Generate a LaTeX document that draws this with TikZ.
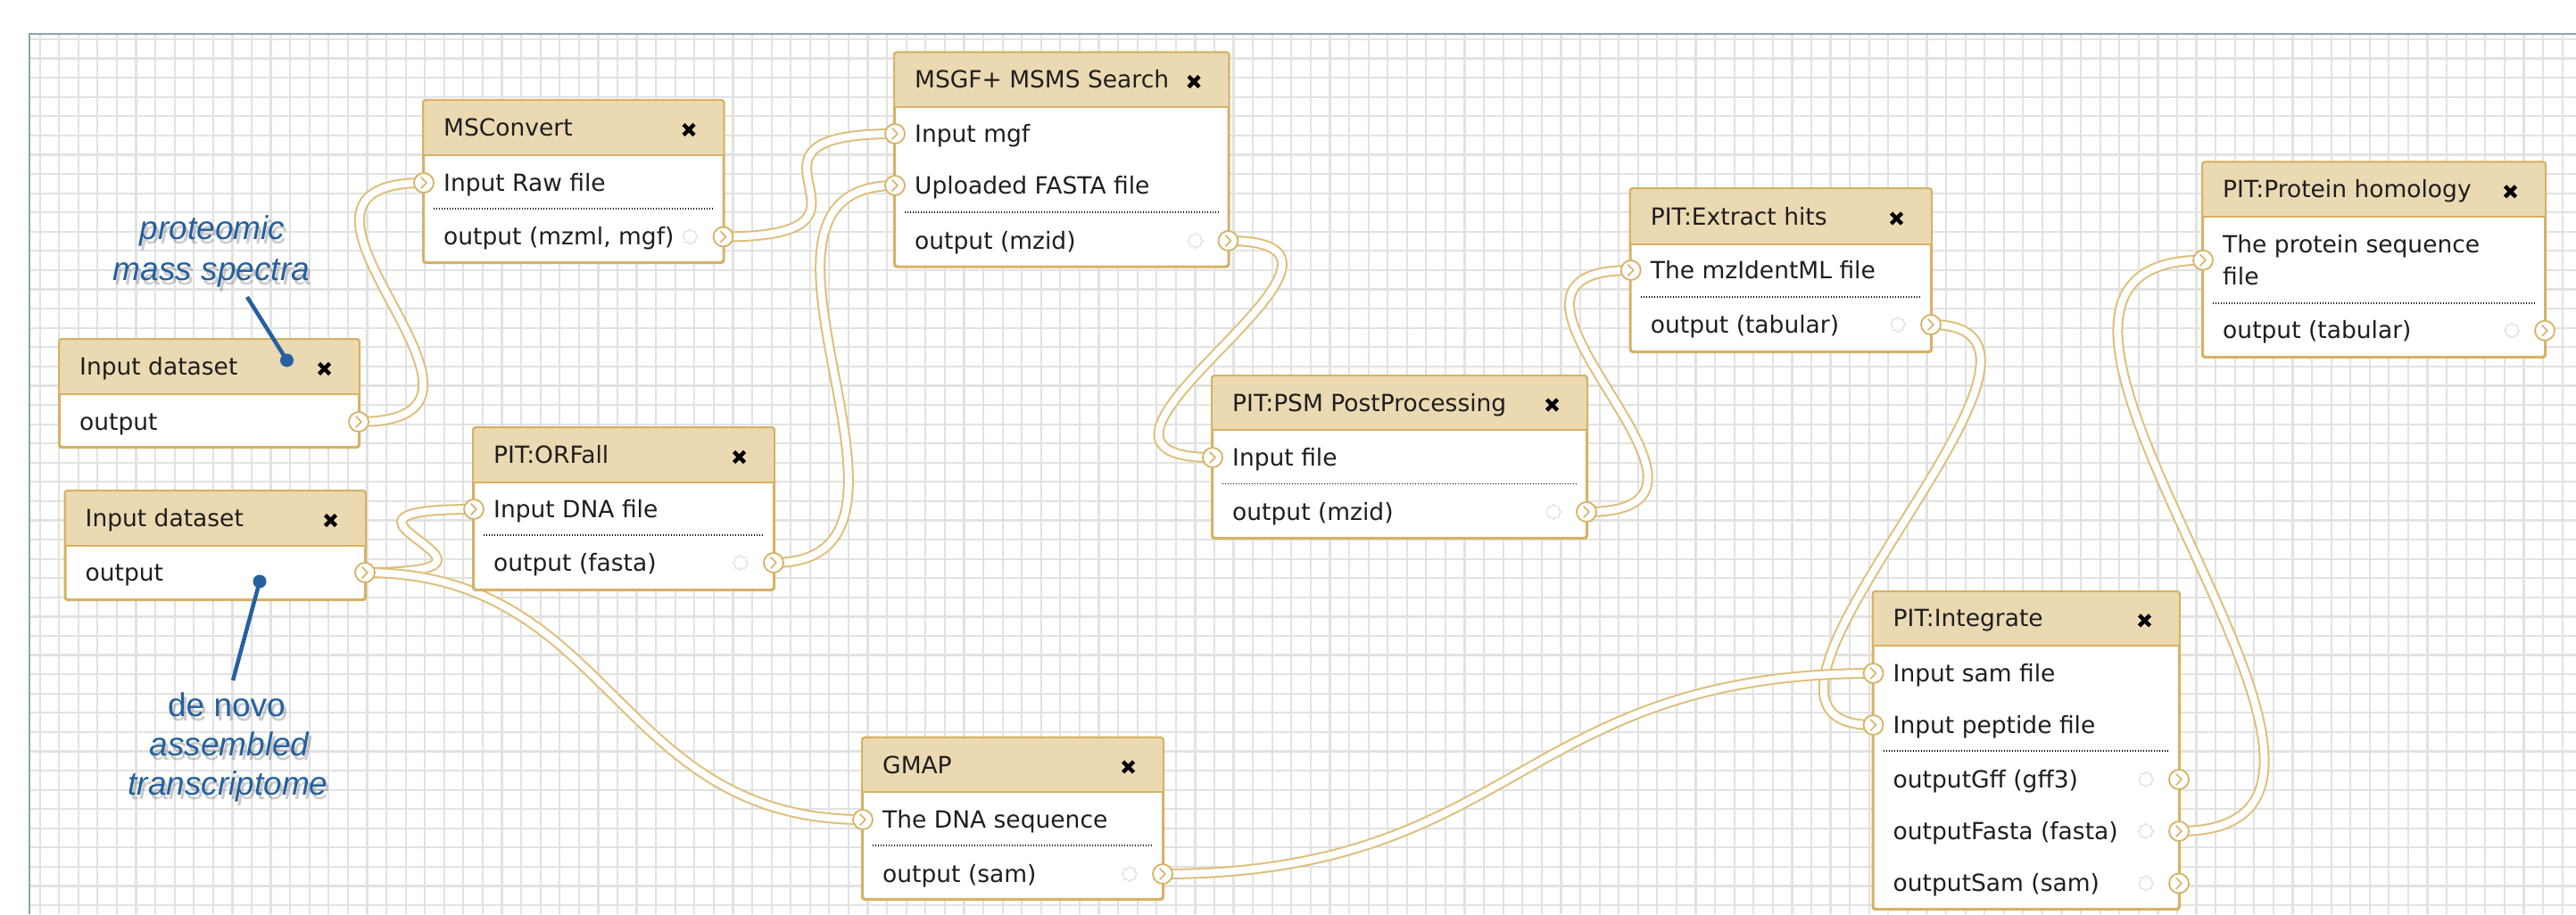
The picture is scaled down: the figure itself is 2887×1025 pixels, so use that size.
\documentclass[tikz,border=0pt]{standalone}
\usepackage{fontspec}
\setmainfont{DejaVu Sans}
\newfontfamily\annofont{Liberation Sans}
\usetikzlibrary{fit,shapes.geometric}
\definecolor{gridgray}{RGB}{226,226,226}
\definecolor{framec}{RGB}{140,165,170}
\definecolor{boxtan}{RGB}{214,178,100}
\definecolor{headtan}{RGB}{235,217,178}
\definecolor{conntan}{RGB}{222,190,120}
\definecolor{txt}{RGB}{30,30,30}
\definecolor{annoblue}{RGB}{38,96,158}
\pgfdeclarelayer{gridlayer}
\pgfdeclarelayer{connlayer}
\pgfsetlayers{gridlayer,connlayer,main}
\tikzset{
  wfbox/.style={draw=boxtan, fill=white, line width=2pt, rounded corners=3pt, inner sep=0pt},
  rowtext/.style={anchor=base west, inner sep=0pt, text=txt, font=\fontsize{26.5}{32}\selectfont},
  port/.style={circle, draw=boxtan, fill=white, line width=1.8pt, minimum size=22pt, inner sep=0pt,
    path picture={\draw[boxtan, line width=1.6pt, line cap=round, line join=round]
      ([shift={(-3pt,6pt)}]path picture bounding box.center) --
      ([shift={(3pt,0pt)}]path picture bounding box.center) --
      ([shift={(-3pt,-6pt)}]path picture bounding box.center);}},
  gear/.style={star, star points=8, star point ratio=1.3, minimum size=17pt, draw=gray!22, line width=1.4pt, inner sep=0pt},
  xmark/.style={line width=4.5pt, draw=black},
  conn/.style={draw=conntan, line width=2pt, double=white, double distance=8pt},
  sepline/.style={draw=black, line width=1.3pt, dash pattern=on 1.3pt off 1.7pt},
  gridline/.style={draw=gridgray, line width=2.2pt},
  annot/.style={text=annoblue, font=\annofont\fontsize{37}{44}\selectfont\itshape, anchor=base, inner sep=0pt},
  annotup/.style={text=annoblue, font=\annofont\fontsize{37}{44}\selectfont, anchor=base, inner sep=0pt},
  shadowtext/.style={text=black, opacity=0.2},
  pointer/.style={draw=annoblue, line width=4.5pt},
  pdot/.style={circle, fill=annoblue, minimum size=15pt, inner sep=0pt}
}
\newcommand\wfbox[7]{%
  \node[wfbox, fit={(#2,#3) (#4,#5)}] (#1) {};
  \fill[headtan, rounded corners=3pt] (#2,#3) rectangle (#4,#6);
  \fill[headtan] (#2,{(#3+#6)/2}) rectangle (#4,#6);
  \draw[boxtan, line width=2pt] (#2,#6) -- (#4,#6);
  \draw[boxtan, line width=2pt, rounded corners=3pt] (#1.north west) rectangle (#1.south east);
  \node[rowtext] (#1-title) at ({#2+22},{(#3+#6)/2+9}) {#7};
  \coordinate (#1-x) at ({#4-38.5},{(#3+#6)/2+2});
  \draw[xmark] ([shift={(-6,-6)}]#1-x) -- ([shift={(6,6)}]#1-x)
               ([shift={(-6,6)}]#1-x) -- ([shift={(6,-6)}]#1-x);
}
\newcommand\inrow[4]{%
  \node[rowtext] (#1-t) at ({#2+22},{#3+9}) {#4};
  \node[port] (#1) at (#2,#3) {};
}
\newcommand\outrow[5]{%
  \node[rowtext] (#1-t) at ({#2+22},{#4+9}) {#5};
  \node[gear] (#1-g) at ({#3-37},#4) {};
  \node[port] (#1) at (#3,#4) {};
}
\newcommand\outrowplain[5]{%
  \node[rowtext] (#1-t) at ({#2+22},{#4+9}) {#5};
  \node[port] (#1) at (#3,#4) {};
}
\newcommand\sepl[3]{\draw[sepline] ({#1+11},#3) -- ({#2-11},#3);}
\newcommand\conn[3]{\draw[conn] (#1.center) .. controls ([xshift=#3pt]#1.center) and ([xshift=-#3pt]#2.center) .. (#2.center);}

\begin{document}
\begin{tikzpicture}[x=1pt,y=-1pt]
\useasboundingbox (0,0) rectangle (2887,1025);
\begin{pgfonlayer}{gridlayer}
  \fill[white] (0,0) rectangle (2887,1025);
  \begin{scope}
    \clip (33,38) rectangle (2887,1025);
    \foreach \i in {0,...,131} \draw[gridline] ({44.6+21.58*\i},38) -- ({44.6+21.58*\i},1025);
    \foreach \j in {0,...,45} \draw[gridline] (33,{44+21.58*\j}) -- (2887,{44+21.58*\j});
  \end{scope}
  \draw[framec, line width=2pt] (33,1025) -- (33,38) -- (2887,38);
\end{pgfonlayer}

% Input dataset 1
\wfbox{inA}{67}{381}{402}{501}{442}{Input dataset}
\outrowplain{inAout}{67}{402}{473}{output}
% Input dataset 2
\wfbox{inB}{73.5}{551}{409}{672}{612}{Input dataset}
\outrowplain{inBout}{73.5}{409}{642}{output}
% MSConvert
\wfbox{msc}{475}{113}{810.5}{294}{174}{MSConvert}
\inrow{mscin}{475}{205}{Input Raw file}
\sepl{475}{810.5}{234}
\outrow{mscout}{475}{810.5}{265.5}{output (mzml, mgf)}
% ORFall
\wfbox{orf}{531}{480}{867}{661}{541}{PIT:ORFall}
\inrow{orfin}{531}{571}{Input DNA file}
\sepl{531}{867}{600}
\outrow{orfout}{531}{867}{631}{output (fasta)}
% MSGF+
\wfbox{msgf}{1003}{59.3}{1376.5}{298.5}{119.8}{MSGF+ MSMS Search}
\inrow{msgfinA}{1003}{150}{Input mgf}
\inrow{msgfinB}{1003}{208}{Uploaded FASTA file}
\sepl{1003}{1376.5}{238}
\outrow{msgfout}{1003}{1376.5}{270}{output (mzid)}
% PSM PostProcessing
\wfbox{psm}{1359}{422}{1778}{603}{482}{PIT:PSM PostProcessing}
\inrow{psmin}{1359}{513}{Input file}
\sepl{1359}{1778}{542.5}
\outrow{psmout}{1359}{1778}{574}{output (mzid)}
% Extract hits
\wfbox{ext}{1827.7}{212}{2164}{394}{274}{PIT:Extract hits}
\inrow{extin}{1827.7}{303}{The mzIdentML file}
\sepl{1827.7}{2164}{333}
\outrow{extout}{1827.7}{2164}{364}{output (tabular)}
% Protein homology
\wfbox{prot}{2469}{182.3}{2852}{400}{243.3}{PIT:Protein homology}
\node[rowtext] (protin-t1) at (2491,283) {The protein sequence};
\node[rowtext] (protin-t2) at (2491,319) {file};
\node[port] (protin) at (2469,291.7) {};
\sepl{2469}{2852}{340}
\outrow{protout}{2469}{2852}{370.7}{output (tabular)}
% Integrate
\wfbox{int}{2099.5}{664}{2442}{1019}{723.6}{PIT:Integrate}
\inrow{intinA}{2099.5}{755}{Input sam file}
\inrow{intinB}{2099.5}{813}{Input peptide file}
\sepl{2099.5}{2442}{842}
\outrow{intgff}{2099.5}{2442}{874}{outputGff (gff3)}
\outrow{intfasta}{2099.5}{2442}{932}{outputFasta (fasta)}
\outrow{intsam}{2099.5}{2442}{990.5}{outputSam (sam)}
% GMAP
\wfbox{gmap}{967}{827.7}{1303}{1008}{888.3}{GMAP}
\inrow{gmapin}{967}{919}{The DNA sequence}
\sepl{967}{1303}{948}
\outrow{gmapout}{967}{1303}{980}{output (sam)}

% connectors
\begin{pgfonlayer}{connlayer}
  \conn{inAout}{mscin}{216}
  \conn{mscout}{msgfinA}{216}
  \conn{orfout}{msgfinB}{216}
  \conn{inBout}{orfin}{216}
  \conn{inBout}{gmapin}{279}
  \conn{msgfout}{psmin}{216}
  \conn{psmout}{extin}{216}
  \conn{extout}{intinB}{216}
  \conn{gmapout}{intinA}{398}
  \conn{intfasta}{protin}{320}
\end{pgfonlayer}

% annotations
\node[annot, shadowtext] at (241,273) {proteomic};
\node[annot, shadowtext] at (240,319) {mass spectra};
\node[annot] (annA1) at (238,268) {proteomic};
\node[annot] (annA2) at (237,314) {mass spectra};
\coordinate (ptrAend) at (277,333);
\node[pdot] (ptrAdot) at (321.5,404) {};
\draw[pointer] (ptrAend) -- (ptrAdot.center);

\node[annotup, shadowtext] at (257,808) {de novo};
\node[annot, shadowtext] at (260,852) {assembled};
\node[annot, shadowtext] at (258.5,896) {transcriptome};
\node[annotup] (annB1) at (254,803) {de novo};
\node[annot] (annB2) at (257,847) {assembled};
\node[annot] (annB3) at (255.5,891) {transcriptome};
\coordinate (ptrBend) at (261,763);
\node[pdot] (ptrBdot) at (291,652) {};
\draw[pointer] (ptrBdot.center) -- (ptrBend);
\end{tikzpicture}
\end{document}
